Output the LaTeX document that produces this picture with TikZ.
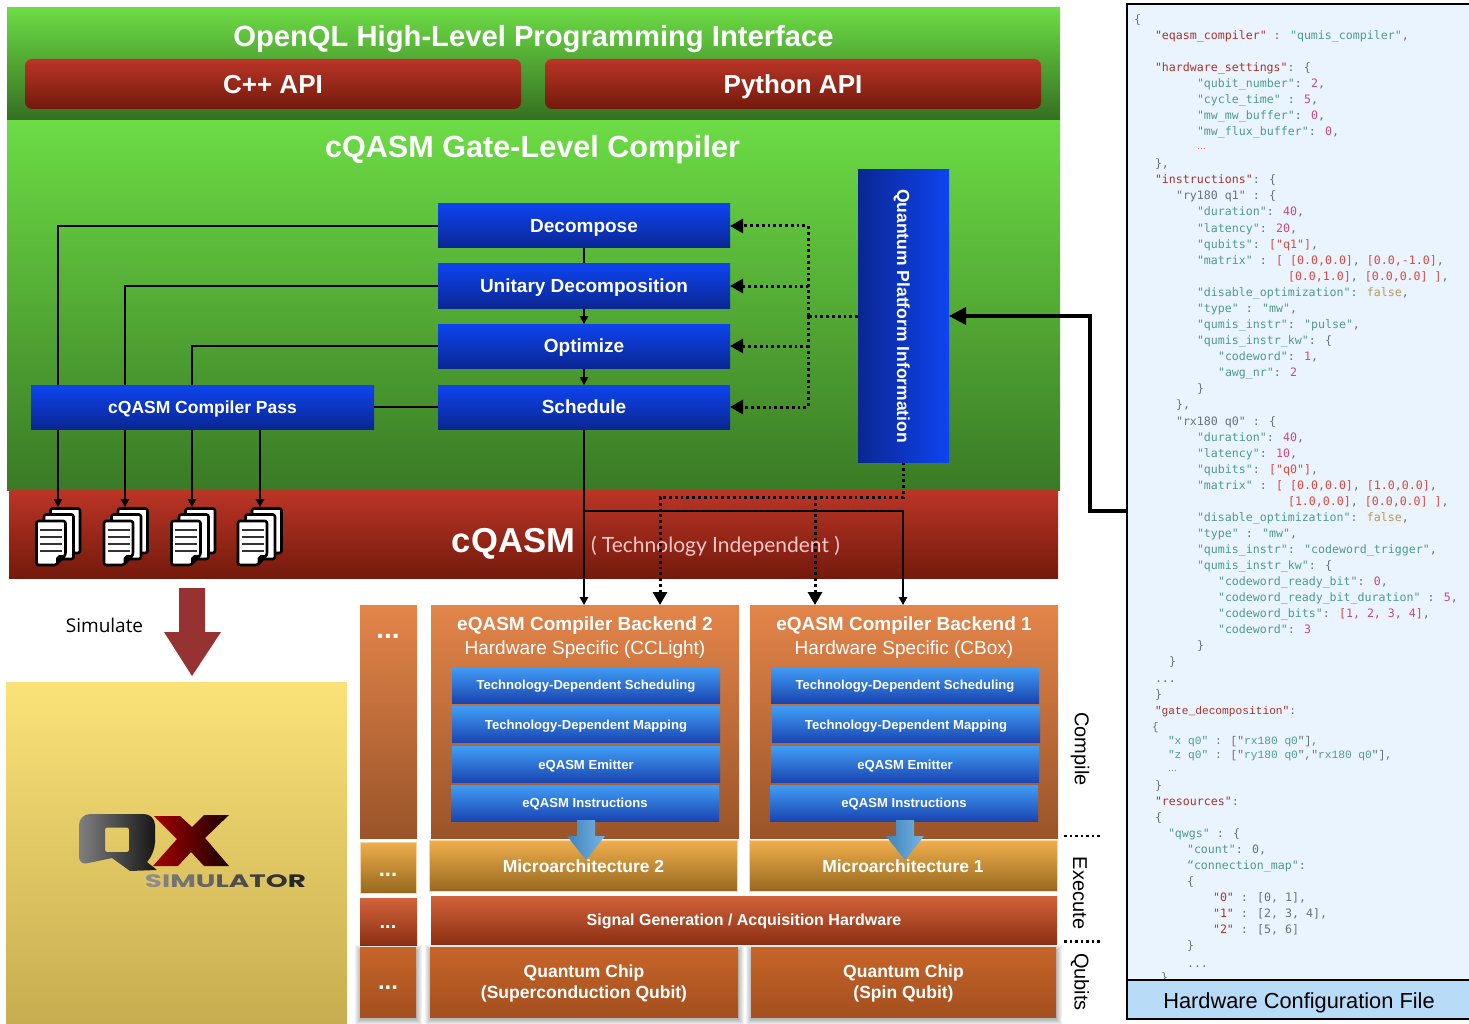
\documentclass[tikz,border=0pt]{standalone}
\usepackage{fontspec}
\usetikzlibrary{arrows.meta,calc}
\setmainfont{Liberation Sans}
\newfontfamily\codefont{DejaVu Sans Mono}
\newfontfamily\codefontb{Liberation Mono}
\newfontfamily\lightfont{Lato}
\newfontfamily\simfont{Open Sans}
\newfontfamily\logofont{Poppins}
\newcommand\fs[1]{\fontsize{#1}{#1}\selectfont}
\definecolor{cR}{HTML}{A8332A}
\definecolor{cT}{HTML}{4F9A8B}
\definecolor{cN}{HTML}{C9497F}
\definecolor{cL}{HTML}{D8483E}
\definecolor{cF}{HTML}{B89A50}
\definecolor{cG}{HTML}{66737B}
\newcommand\kR[1]{\textcolor{cR}{#1}}
\newcommand\kT[1]{\textcolor{cT}{#1}}
\newcommand\kN[1]{\textcolor{cN}{#1}}
\newcommand\kL[1]{\textcolor{cL}{#1}}
\newcommand\kF[1]{\textcolor{cF}{#1}}
\newcounter{codeno}
\newcommand\codeln[3]{\stepcounter{codeno}\node[codeline] (code\number\value{codeno}) at (#1,#2+1.5) {#3};}
\newcommand\codelb[3]{\stepcounter{codeno}\node[codeline,font=\codefontb\fs{11.2}] (code\number\value{codeno}) at (#1,#2+1.5) {#3};}
\newcommand\softshadow[4]{\foreach \s in {6,5,4,3,2,1}{\fill[black,opacity=.05] (#1-\s+1,#2+4-\s) rectangle (#3+\s,#4+\s+1);}}
\newcommand\docstack[1]{%
 \begin{scope}[shift={(#1,0)}]
  \draw[docpage] (14.5,508.5) rectangle (44,553);
  \draw[docpage] (8,514.5) rectangle (37.5,559);
  \draw[docpage] (0.5,521) -- (29.5,521) -- (29.5,555) -- (20,565) -- (0.5,565) -- cycle;
  \fill[black] (29.5,555) -- (23,555) -- (20,558) -- (20,565) -- cycle;
  \foreach \ly in {530,537,544,551}{\draw[black!80,line width=1.1pt] (4,\ly) -- (26,\ly);}
 \end{scope}}
\pgfdeclarelayer{back}\pgfdeclarelayer{wires}
\pgfsetlayers{back,wires,main}
\tikzset{
 every node/.style={inner sep=0pt,outer sep=0pt},
 title/.style={text=white,font=\bfseries\fs{#1},text height=#1*.72pt,text depth=0pt},
 apibox/.style={rounded corners=7pt,top color=apiTop,bottom color=apiBot,text=white,font=\bfseries\fs{26},minimum height=50pt,text height=18.7pt,text depth=0pt},
 bigblue/.style={top color=blueTop,bottom color=blueBot,text=white,font=\bfseries\fs{19},minimum width=292pt,minimum height=44pt,text height=13.7pt,text depth=0pt},
 subblue/.style={top color=subTop,bottom color=subBot,text=white,font=\bfseries\fs{13.1},minimum width=268pt,minimum height=36pt,text height=9.4pt,text depth=0pt},
 orangebox/.style={top color=orgTop,bottom color=orgBot},
 goldbox/.style={top color=gldTop,bottom color=gldBot,draw=gldTop!50!white,line width=.6pt,text=white,font=\bfseries\fs{17.5},text height=12.6pt,text depth=0pt},
 sigbox/.style={top color=sigTop,bottom color=sigBot,text=white,font=\bfseries\fs{16},text height=11.5pt,text depth=0pt},
 chipbox/.style={top color=chpTop,bottom color=chpBot},
 chiptext/.style={text=white,font=\bfseries\fs{17.5},align=center},
 dotsnode/.style={text=white,font=\bfseries\fs{#1}},
 wire/.style={draw=black,line width=1.4pt},
 arr/.style={-{Triangle[length=8pt,width=8.5pt]}},
 dotline/.style={draw=black,line width=3pt,dash pattern=on 2.8pt off 3pt},
 bigarr/.style={-{Triangle[length=13pt,width=14pt]}},
 docpage/.style={draw=black,fill=white,line width=2.6pt,rounded corners=2.2pt,line join=round},
 codeline/.style={anchor=west,text=cG,font=\codefont\fs{11.6},text height=8pt,text depth=2pt},
 sidelabel/.style={rotate=-90,font=\fs{20}},
 seprule/.style={draw=black,line width=2.4pt,dash pattern=on 2.5pt off 3pt},
 flowarrow/.style={left color=#1!85!black,right color=#1!75!white},
}
\definecolor{apiTop}{HTML}{BA3527}\definecolor{apiBot}{HTML}{731A0C}
\definecolor{blueTop}{HTML}{0E44F0}\definecolor{blueBot}{HTML}{0A2692}
\definecolor{subTop}{HTML}{409DF6}\definecolor{subBot}{HTML}{1A45B0}
\definecolor{orgTop}{HTML}{E3854A}\definecolor{orgBot}{HTML}{9A5429}
\definecolor{gldTop}{HTML}{F0AE4C}\definecolor{gldBot}{HTML}{96681F}
\definecolor{sigTop}{HTML}{D2633B}\definecolor{sigBot}{HTML}{8C2F12}
\definecolor{chpTop}{HTML}{C76529}\definecolor{chpBot}{HTML}{A34F1F}
\definecolor{grnTop}{HTML}{6CDC45}\definecolor{grnBot}{HTML}{3A7A25}
\definecolor{redTop}{HTML}{BB3526}\definecolor{redBot}{HTML}{741A0C}
\definecolor{ylwTop}{HTML}{FBE278}\definecolor{ylwBot}{HTML}{C8AD50}
\definecolor{panelBg}{HTML}{EAF4FE}\definecolor{panelBar}{HTML}{B8DBF7}
\definecolor{flowBlue}{HTML}{4A9BDC}\definecolor{simArrow}{HTML}{963232}
\begin{document}
\begin{tikzpicture}[x=1pt,y=-1pt]
\useasboundingbox (0,0) rectangle (1469,1024);
\begin{pgfonlayer}{back}
 % bands
 \node[minimum width=1053pt,minimum height=113pt,anchor=north west,top color=grnTop,bottom color=grnBot!90!black] (openql) at (7,8) {};
 \node[minimum width=1053pt,minimum height=370pt,anchor=north west,top color=grnTop,bottom color=grnBot] (gatecomp) at (7,120.5) {};
 \node[minimum width=1049pt,minimum height=88pt,anchor=north west,top color=redTop,bottom color=redBot] (cqasmband) at (9,490) {};
 \node[minimum width=341pt,minimum height=342pt,anchor=north west,top color=ylwTop,bottom color=ylwBot] (qxpanel) at (6,682) {};
 \node[title=29.2] (openqltitle) at (533.5,36) {OpenQL High-Level Programming Interface};
 \node[title=30.6] (gatetitle) at (532.5,146) {cQASM Gate-Level Compiler};
 \node[title=34.6] (cqasmtext) at (513.5,540.5) {cQASM};
 \node[anchor=west,text=white!78!red,font=\lightfont\fs{21},text height=15.1pt,text depth=0pt] (techtext) at (591,544.5) {( Technology Independent )};
\end{pgfonlayer}

% API
\node[apibox,minimum width=496pt] (cpp) at (273,84) {C++ API};
\node[apibox,minimum width=496pt] (py) at (793,84) {Python API};

% gate level compiler boxes
\node[bigblue] (dec) at (584,226) {Decompose};
\node[bigblue] (uni) at (584,286) {Unitary Decomposition};
\node[bigblue] (opt) at (584,346) {Optimize};
\node[bigblue] (sch) at (584,407) {Schedule};
\node[top color=blueTop,bottom color=blueBot,text=white,font=\bfseries\fs{17.5},minimum width=343pt,minimum height=44pt,text height=12.6pt,text depth=0pt] (pass) at (202.5,407) {cQASM Compiler Pass};
\node[left color=blueBot,right color=blueTop,minimum width=91pt,minimum height=292pt] (qpi) at (903.5,316) {};
\node[rotate=-90,text=white,font=\bfseries\fs{17.5},text height=12.6pt,text depth=0pt] (qpilabel) at (903.5,316) {Quantum Platform Information};

% file stacks
\docstack{36}\docstack{103.5}\docstack{171}\docstack{237.5}
\coordinate (f1) at (58,507);
\coordinate (f2) at (125,507);
\coordinate (f3) at (192,507);
\coordinate (f4) at (260,507);

% backends
\node[orangebox,minimum width=57pt,minimum height=233pt,anchor=north west] (colA) at (360,605) {};
\node[dotsnode=28] (colAdots) at (388,636) {...};
\node[orangebox,minimum width=308pt,minimum height=233pt,anchor=north west] (be2) at (431,605) {};
\node[orangebox,minimum width=308pt,minimum height=233pt,anchor=north west] (be1) at (750,605) {};
\node[title=19] (be2t) at (585,624) {eQASM Compiler Backend 2};
\node[text=white,font=\fs{19},text height=13.7pt,text depth=0pt] (be2s) at (585,648) {Hardware Specific (CCLight)};
\node[title=19] (be1t) at (904,624) {eQASM Compiler Backend 1};
\node[text=white,font=\fs{19},text height=13.7pt,text depth=0pt] (be1s) at (904,648) {Hardware Specific (CBox)};
\node[subblue] (s21) at (586,685) {Technology-Dependent Scheduling};
\node[subblue] (s22) at (586,724.5) {Technology-Dependent Mapping};
\node[subblue] (s23) at (586,764.5) {eQASM Emitter};
\node[subblue] (s24) at (585,803) {eQASM Instructions};
\node[subblue] (s11) at (905,685) {Technology-Dependent Scheduling};
\node[subblue] (s12) at (906,724.5) {Technology-Dependent Mapping};
\node[subblue] (s13) at (905,764.5) {eQASM Emitter};
\node[subblue] (s14) at (904,803) {eQASM Instructions};

% execute / qubits layers
\node[goldbox,minimum width=56pt,minimum height=51pt,anchor=north west] (colB) at (360,842) {};
\node[dotsnode=22] (colBdots) at (388,875) {...};
\node[goldbox,minimum width=308pt,minimum height=51pt,anchor=north west] (m2) at (429.5,840.5) {Microarchitecture 2};
\node[goldbox,minimum width=308pt,minimum height=51pt,anchor=north west] (m1) at (749,840.5) {Microarchitecture 1};
\node[sigbox,minimum width=57pt,minimum height=47pt,anchor=north west] (colC) at (360,898) {};
\node[dotsnode=20] (colCdots) at (388,927) {...};
\node[sigbox,minimum width=626pt,minimum height=48pt,anchor=north west] (sig) at (431,896) {Signal Generation / Acquisition Hardware};
\softshadow{360}{947}{416}{1018}
\softshadow{430}{947}{738}{1018}
\softshadow{751}{947}{1056}{1018}
\node[chipbox,minimum width=56pt,minimum height=70pt,anchor=north west] (colD) at (360,947.5) {};
\node[dotsnode=24] (colDdots) at (388,988) {...};
\node[chipbox,minimum width=308pt,minimum height=70pt,anchor=north west] (q2) at (430,947.5) {};
\node[chipbox,minimum width=305pt,minimum height=70pt,anchor=north west] (q1) at (751,947.5) {};
\node[chiptext] (q2t) at (584,983.5) {Quantum Chip\\[3pt](Superconduction Qubit)};
\node[chiptext] (q1t) at (903.5,983.5) {Quantum Chip\\[3pt](Spin Qubit)};

% flow arrows between compiler and microarchitecture
\shade[flowarrow=flowBlue] (577,820) -- (595,820) -- (595,836) -- (605,836) -- (586,860) -- (567,836) -- (577,836) -- cycle;
\shade[flowarrow=flowBlue] (896,820) -- (914,820) -- (914,836) -- (924,836) -- (905,860) -- (886,836) -- (896,836) -- cycle;

\node[sidelabel] (lblc) at (1080,749) {Compile};
\node[sidelabel] (lble) at (1080,893) {Execute};
\node[sidelabel] (lblq) at (1080,982) {Qubits};
\coordinate (sepa1) at (1064,836);\coordinate (sepa2) at (1101,836);
\coordinate (sepb1) at (1064,941.5);\coordinate (sepb2) at (1101,941.5);
\draw[seprule] (sepa1) -- (sepa2);
\draw[seprule] (sepb1) -- (sepb2);

% Simulate
\node[font=\simfont\fs{19},text=black] (simtext) at (104.5,625) {Simulate};
\fill[simArrow] (179,588) -- (205,588) -- (205,632) -- (221,632) -- (192,676) -- (164,632) -- (179,632) -- cycle;

% QX logo
\shade[left color=black!50,right color=black!92,even odd rule]
  [rounded corners=11pt] (79,846) -- (79,814) [rounded corners=11pt] -- (155,814) -- (155,853)
  [rounded corners=0.5pt] -- (147,862) -- (157,870) -- (130,871) -- (112,858)
  [rounded corners=8pt] -- (79,865) -- cycle
  [rounded corners=2pt] (105,827.5) -- (129,827.5) -- (129,852) -- (105,852) -- cycle;
\shade[left color=red!65!black,right color=black!90!red]
  (154,816) -- (180,816) -- (192,827) -- (204,815) -- (229,815) -- (205,838) -- (229,866) -- (204,866) -- (191,852) -- (178,866) -- (153,866) -- (177,839) -- cycle;
\node[font=\logofont\bfseries\fs{18},xscale=1.55] (simlogo) at (225.5,881) {\textcolor{black!45}{S}\textcolor{black!50}{I}\textcolor{black!55}{M}\textcolor{black!60}{U}\textcolor{black!65}{L}\textcolor{black!70}{A}\textcolor{black!75}{T}\textcolor{black!80}{O}\textcolor{black!85}{R}};

% right panel
\fill[panelBg] (1127,4) rectangle (1469,981);
\codeln{1134}{19}{\{}
\codeln{1155}{35}{\kR{"eqasm\_compiler"} : \kT{"qumis\_compiler"},}
\codeln{1155}{67}{\kR{"hardware\_settings"}: \{}
\codeln{1197}{83}{\kT{"qubit\_number"}: \kN{2},}
\codeln{1197}{99}{\kT{"cycle\_time"} : \kN{5},}
\codeln{1197}{115}{\kT{"mw\_mw\_buffer"}: \kN{0},}
\codeln{1197}{131}{\kT{"mw\_flux\_buffer"}: \kN{0},}
\node[anchor=west,text=cL,font=\fs{9}] (codedots1) at (1197,149) {…};
\codeln{1155}{163}{\},}
\codeln{1155}{179}{\kR{"instructions"}: \{}
\codeln{1176}{195}{"ry180 q1" : \{}
\codeln{1197}{211}{\kT{"duration"}: \kN{40},}
\codeln{1197}{228}{\kT{"latency"}: \kN{20},}
\codeln{1197}{244}{\kT{"qubits"}: \kL{["q1"]},}
\codeln{1197}{260}{\kT{"matrix"} : \kL{[ [0.0,0.0]}, \kL{[0.0,-1.0]},}
\codeln{1288}{276}{\kL{[0.0,1.0]}, \kL{[0.0,0.0] ]},}
\codeln{1197}{292}{\kT{"disable\_optimization"}: \kF{false},}
\codeln{1197}{308}{\kT{"type"} : \kT{"mw"},}
\codeln{1197}{324}{\kT{"qumis\_instr"}: \kT{"pulse"},}
\codeln{1197}{340}{\kT{"qumis\_instr\_kw"}: \{}
\codeln{1218}{356}{\kT{"codeword"}: \kN{1},}
\codeln{1218}{372}{\kT{"awg\_nr"}: \kN{2}}
\codeln{1197}{388}{\}}
\codeln{1176}{404}{\},}
\codeln{1176}{421}{"rx180 q0" : \{}
\codeln{1197}{437}{\kT{"duration"}: \kN{40},}
\codeln{1197}{453}{\kT{"latency"}: \kN{10},}
\codeln{1197}{469}{\kT{"qubits"}: \kL{["q0"]},}
\codeln{1197}{485}{\kT{"matrix"} : \kL{[ [0.0,0.0]}, \kL{[1.0,0.0]},}
\codeln{1288}{501}{\kL{[1.0,0.0]}, \kL{[0.0,0.0] ]},}
\codeln{1197}{517}{\kT{"disable\_optimization"}: \kF{false},}
\codeln{1197}{533}{\kT{"type"} : \kT{"mw"},}
\codeln{1197}{549}{\kT{"qumis\_instr"}: \kT{"codeword\_trigger"},}
\codeln{1197}{565}{\kT{"qumis\_instr\_kw"}: \{}
\codeln{1218}{581}{\kT{"codeword\_ready\_bit"}: \kN{0},}
\codeln{1218}{597}{\kT{"codeword\_ready\_bit\_duration"} : \kN{5},}
\codeln{1218}{613}{\kT{"codeword\_bits"}: \kL{[}\kN{1, 2, 3, 4}\kL{]},}
\codeln{1218}{629}{\kT{"codeword"}: \kN{3}}
\codeln{1197}{645}{\}}
\codeln{1169}{661}{\}}
\codeln{1155}{678}{...}
\codeln{1155}{694}{\}}
\codelb{1155}{710}{\kR{"gate\_decomposition"}:}
\codelb{1152}{726}{\{}
\codelb{1168}{740}{\kT{"x q0"} : ["\kT{rx180 q0}"],}
\codelb{1168}{754}{\kT{"z q0"} : ["\kT{ry180 q0}","\kT{rx180 q0}"],}
\node[anchor=west,text=cG,font=\fs{9}] (codedots2) at (1168,771) {…};
\codeln{1155}{785}{\}}
\codeln{1155}{801}{\kR{"resources"}:}
\codeln{1155}{817}{\{}
\codeln{1168}{833}{\kT{"qwgs"} : \{}
\codeln{1187}{849}{\kT{"count"}: 0,}
\codeln{1187}{865}{\kT{“connection\_map"}:}
\codeln{1187}{881}{\{}
\codeln{1213}{897}{\kR{"0"} : [0, 1],}
\codeln{1213}{913}{\kR{"1"} : [2, 3, 4],}
\codeln{1213}{929}{\kR{"2"} : [5, 6]}
\codeln{1187}{945}{\}}
\codeln{1187}{963}{...}
\codeln{1161}{977}{\}}
\fill[panelBar] (1127,980) rectangle (1469,1019);
\draw[black,line width=1.8pt] (1469,4) -- (1127,4) -- (1127,1019) -- (1469,1019);
\draw[black,line width=1.4pt] (1127,980) -- (1469,980);
\node[font=\fs{21.8},text=black,text height=15.7pt,text depth=0pt] (hwfile) at (1299,1001) {Hardware Configuration File};
\coordinate (hwport) at (1127,511);

% connectors
\coordinate (dbus) at (808,316);
\coordinate (qbus) at (903.5,497);
\coordinate (be2solid) at (584,605);
\coordinate (be1solid) at (903,605);
\coordinate (be2dot) at (660,605);
\coordinate (be1dot) at (815,605);
\coordinate (split) at (584,511);
\begin{pgfonlayer}{wires}
 \draw[wire,arr] (dec.west) -| (f1);
 \draw[wire,arr] (uni.west) -| (f2);
 \draw[wire,arr] (opt.west) -| (f3);
 \draw[wire,arr] (pass.south -| f4) -- (f4);
 \draw[wire] (sch.west) -- (pass.east);
 \draw[wire] (dec.south) -- (uni.north);
 \draw[wire,arr] (uni.south) -- (opt.north);
 \draw[wire,arr] (opt.south) -- (sch.north);
 \draw[wire,arr] (sch.south) -- (be2solid);
 \draw[wire,arr] (split) -| (be1solid);
 \draw[dotline] (qpi.west) -- (dbus);
 \draw[dotline,bigarr] (dbus) |- (dec.east);
 \draw[dotline,bigarr] (dbus) |- (uni.east);
 \draw[dotline,bigarr] (dbus) |- (opt.east);
 \draw[dotline,bigarr] (dbus) |- (sch.east);
 \draw[dotline,bigarr] (qpi.south) -- (qbus) -| (be2dot);
 \draw[dotline,bigarr] (qbus -| be1dot) -- (be1dot);
 \draw[black,line width=3.6pt,-{Triangle[length=17pt,width=17pt]}] (hwport) -- ++(-37,0) |- (qpi.east);
\end{pgfonlayer}
\end{tikzpicture}
\end{document}
